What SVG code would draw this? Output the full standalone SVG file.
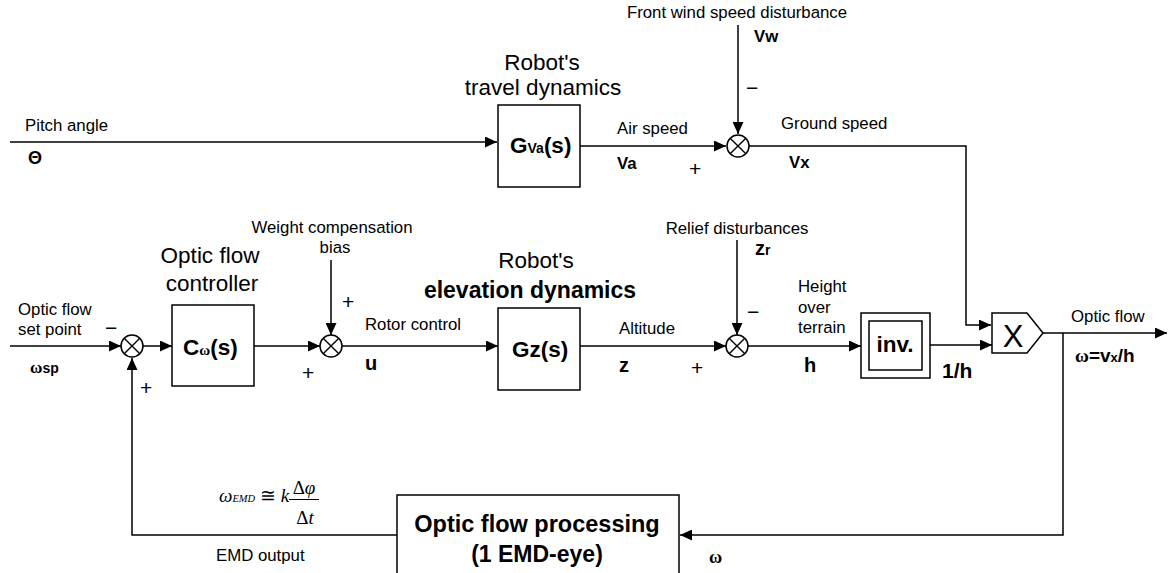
<svg xmlns="http://www.w3.org/2000/svg" width="1168" height="573" viewBox="0 0 1168 573">
<style>
text{font-family:"Liberation Sans",Arial,sans-serif;fill:#000}
.lbl{font-size:16.8px}
.hd{font-size:22.5px}
.b{font-weight:bold}
.sym{font-size:20px;font-weight:bold}
.blk{font-size:22.5px;font-weight:bold}
.sg{font-size:21px}
.m{font-family:"Liberation Serif","Times New Roman",serif}
.ln{fill:none;stroke:#000;stroke-width:1.5}
.box{fill:#fff;stroke:#000;stroke-width:1.5}
</style>
<defs>
<marker id="ah" markerUnits="userSpaceOnUse" markerWidth="12" markerHeight="11" refX="12" refY="5.5" orient="auto">
<path d="M0,0 L12,5.5 L0,11 z" fill="#000"/>
</marker>
<g id="sumShape">
<circle cx="0" cy="0" r="11" fill="#fff" stroke="#000" stroke-width="1.5"/>
<path d="M-7.8,-7.8 L7.8,7.8 M-7.8,7.8 L7.8,-7.8" stroke="#000" stroke-width="1.4"/>
</g>
</defs>
<rect width="1168" height="573" fill="#fff"/>

<g id="connectors" class="ln" marker-end="url(#ah)">
<path d="M10,142 H497"/>
<path d="M580,146 H726"/>
<path d="M738,25 V134"/>
<path d="M749,146 H966 V325 H991"/>
<path d="M10,346 H121"/>
<path d="M143,346 H172"/>
<path d="M254,346 H320"/>
<path d="M331,260 V335"/>
<path d="M342,346 H498"/>
<path d="M580,346 H726"/>
<path d="M737,240 V335"/>
<path d="M748,346 H861"/>
<path d="M930,345 H992"/>
<path d="M1043,333 H1167"/>
<path d="M1063,333 V535 H680"/>
<path d="M397,535 H132 V358"/>
</g>

<g id="pitch-input">
<text class="lbl" x="25" y="131">Pitch angle</text>
<text class="b" x="28" y="164" font-size="18px">Θ</text>
</g>

<g id="travel-dynamics">
<text class="hd" x="542" y="70" text-anchor="middle">Robot's</text>
<text class="hd" x="543" y="95" text-anchor="middle">travel dynamics</text>
<rect class="box" x="498" y="105" width="82" height="82"/>
<text class="blk" x="510" y="153">G<tspan font-size="14px">Va</tspan>(s)</text>
</g>

<g id="wind-sum">
<text class="lbl" x="737" y="18" text-anchor="middle">Front wind speed disturbance</text>
<text class="lbl b" x="754" y="42">Vw</text>
<text class="sg" x="746" y="95">−</text>
<use href="#sumShape" x="738" y="146"/>
<text class="lbl" x="617" y="134">Air speed</text>
<text class="lbl b" x="617" y="169">Va</text>
<text class="sg" x="689" y="176">+</text>
<text class="lbl" x="781" y="129">Ground speed</text>
<text class="lbl b" x="789" y="168">Vx</text>
</g>

<g id="setpoint-sum">
<text class="lbl" x="18" y="315">Optic flow</text>
<text class="lbl" x="18" y="335">set point</text>
<text class="sg" x="105" y="335">−</text>
<use href="#sumShape" x="132" y="346"/>
<text x="30" y="373"><tspan class="m b" font-size="17px">ω</tspan><tspan class="b" font-size="14px">sp</tspan></text>
<text class="sg" x="140" y="395">+</text>
</g>

<g id="controller">
<text class="hd" x="210" y="263" text-anchor="middle">Optic flow</text>
<text class="hd" x="212" y="291" text-anchor="middle">controller</text>
<rect class="box" x="172" y="305" width="82" height="81"/>
<text class="blk" x="183" y="355">C<tspan class="m" font-size="15px">ω</tspan>(s)</text>
</g>

<g id="bias-sum">
<text class="lbl" x="332" y="233" text-anchor="middle">Weight compensation</text>
<text class="lbl" x="335" y="253" text-anchor="middle">bias</text>
<text class="sg" x="342" y="309">+</text>
<use href="#sumShape" x="331" y="346"/>
<text class="sg" x="302" y="380">+</text>
<text class="lbl" x="365" y="330">Rotor control</text>
<text class="sym" x="365" y="370">u</text>
</g>

<g id="elevation-dynamics">
<text class="hd" x="536" y="268" text-anchor="middle">Robot's</text>
<text class="b" x="530" y="298" text-anchor="middle" font-size="23px">elevation dynamics</text>
<rect class="box" x="498" y="308" width="82" height="82"/>
<text class="blk" x="512" y="357">Gz(s)</text>
</g>

<g id="relief-sum">
<text class="lbl" x="737" y="234" text-anchor="middle">Relief disturbances</text>
<text class="sym" x="755" y="255">z<tspan font-size="14px">r</tspan></text>
<text class="sg" x="747" y="319">−</text>
<use href="#sumShape" x="737" y="346"/>
<text class="lbl" x="619" y="334">Altitude</text>
<text class="sym" x="619" y="372">z</text>
<text class="sg" x="691" y="375">+</text>
<text class="lbl" x="798" y="292">Height</text>
<text class="lbl" x="798" y="313">over</text>
<text class="lbl" x="798" y="333">terrain</text>
<text class="sym" x="804" y="372">h</text>
</g>

<g id="inverse">
<rect class="box" x="861" y="313" width="69" height="65"/>
<rect class="box" x="869" y="321" width="53" height="49"/>
<text class="blk" x="895" y="352" text-anchor="middle">inv.</text>
<text class="b" x="942" y="378" font-size="21px">1/h</text>
</g>

<g id="multiplier">
<polygon class="box" points="992,313 1027,313 1043,333 1027,353 992,353"/>
<text x="1013" y="347" text-anchor="middle" font-size="31px">X</text>
<text class="lbl" x="1071" y="322">Optic flow</text>
<text x="1075" y="362"><tspan class="m b" font-size="19px">ω</tspan><tspan class="b" font-size="19px">=v</tspan><tspan class="b" font-size="13px">x</tspan><tspan class="b" font-size="19px">/h</tspan></text>
</g>

<g id="of-processing">
<rect class="box" x="397" y="495" width="282" height="100"/>
<text class="b" x="537" y="532" text-anchor="middle" font-size="23.5px">Optic flow processing</text>
<text class="b" x="537" y="562" text-anchor="middle" font-size="23px">(1 EMD-eye)</text>
<text class="m b" x="709" y="563" font-size="18px">ω</text>
</g>

<g id="emd-output">
<text class="m" x="219" y="502" font-size="19px"><tspan font-style="italic">ω</tspan><tspan font-style="italic" font-size="10.5px">EMD</tspan> ≅ <tspan font-style="italic">k</tspan></text>
<text class="m" x="304" y="494" font-size="19px" text-anchor="middle">Δ<tspan font-style="italic">φ</tspan></text>
<path d="M289,499.5 H319" stroke="#000" stroke-width="1"/>
<text class="m" x="305" y="524" font-size="19px" text-anchor="middle">Δ<tspan font-style="italic">t</tspan></text>
<text class="lbl" x="216" y="561" font-size="16px">EMD output</text>
</g>
</svg>
